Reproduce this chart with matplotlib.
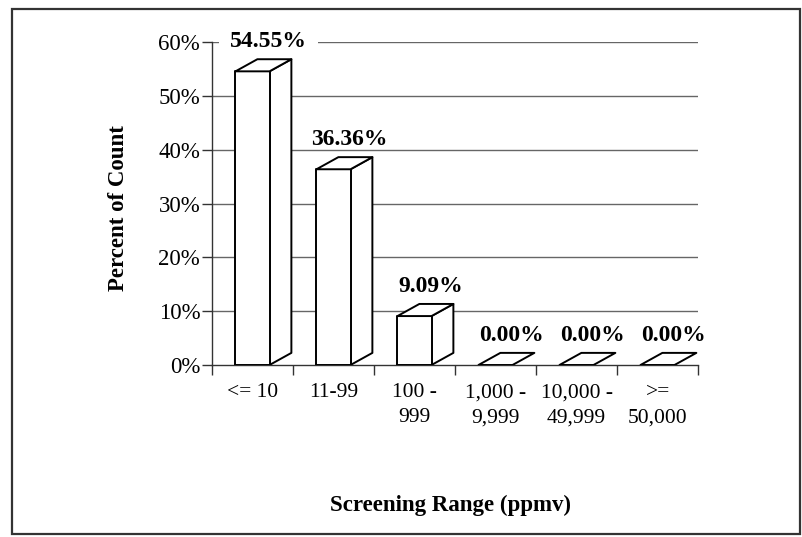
import numpy as np
import matplotlib.pyplot as plt
from matplotlib.patches import Polygon, Rectangle

# Data
categories = ['<= 10', '11-99', '100 -\n999', '1,000 -\n9,999', '10,000 -\n49,999', '>=\n50,000']
percent = [54.55, 36.36, 9.09, 0.00, 0.00, 0.00]
y_ticks = [0, 10, 20, 30, 40, 50, 60]

plt.rcParams['font.family'] = ['Liberation Serif', 'DejaVu Serif']

W, H = 802, 537
fig = plt.figure(figsize=(W / 100, H / 100), dpi=100)
ax = fig.add_axes([212 / W, 1 - 365 / H, 486 / W, 323 / H])

n = len(categories)
x = np.arange(n) + 0.5
half = 0.21          # half width of the front face (category units)
dx, dy = 0.27, 2.25  # depth offset of the 3D boxes (category units, percent)


def draw_box(ax, xc, h):
    """Draw a pseudo-3D column: front, side and top faces."""
    x0, x1 = xc - half, xc + half
    kw = dict(facecolor='white', edgecolor='black', linewidth=1.4, joinstyle='round', zorder=3)
    if h > 0:
        ax.add_patch(Polygon([(x1, 0), (x1 + dx, dy), (x1 + dx, h + dy), (x1, h)], **kw))
        ax.add_patch(Rectangle((x0, 0), 2 * half, h, **kw))
    ax.add_patch(Polygon([(x0, h), (x1, h), (x1 + dx, h + dy), (x0 + dx, h + dy)], **kw))


# gridlines
for t in y_ticks[1:]:
    ax.axhline(t, color='#666666', linewidth=1.0, zorder=1)

for xc, v in zip(x, percent):
    draw_box(ax, xc, v)
    # labels sit above the gridlines but behind the boxes
    ax.text(xc + 0.2, v + dy + 2.2, f'{v:.2f}%', ha='center', va='baseline',
            fontsize=17, fontweight='bold', zorder=2,
            bbox=dict(facecolor='white', edgecolor='none', pad=8) if v > 50 else None)

ax.set_xlim(0, n)
ax.set_ylim(0, 60)
for side in ['top', 'right']:
    ax.spines[side].set_visible(False)
for side in ['left', 'bottom']:
    ax.spines[side].set_linewidth(1.0)
    ax.spines[side].set_color('#333333')

ax.set_yticks(y_ticks)
ax.set_yticklabels([f'{t}%' for t in y_ticks], fontsize=16.5)
ax.tick_params(axis='y', length=7, width=1.0, pad=1.5, color='#333333')

ax.set_xticks(x)
ax.set_xticklabels(categories, fontsize=15.5, linespacing=1.45, va='top')
ax.set_xticks(np.arange(n + 1), minor=True)
ax.tick_params(axis='x', which='major', length=0, pad=13)
ax.tick_params(axis='x', which='minor', length=7, width=1.0, color='#333333')

fig.text(118 / W, 1 - 208 / H, 'Percent of Count', rotation=90, ha='center', va='center',
         fontsize=16.5, fontweight='bold')
fig.text(450 / W, 1 - 505 / H, 'Screening Range (ppmv)', ha='center', va='center',
         fontsize=16.5, fontweight='bold')

# outer frame
fig.patches.append(Rectangle((12 / W, 1 - 534 / H), 788 / W, 525 / H, transform=fig.transFigure,
                             fill=False, edgecolor='#333333', linewidth=1.6))

fig.savefig('out.png', dpi=100)
